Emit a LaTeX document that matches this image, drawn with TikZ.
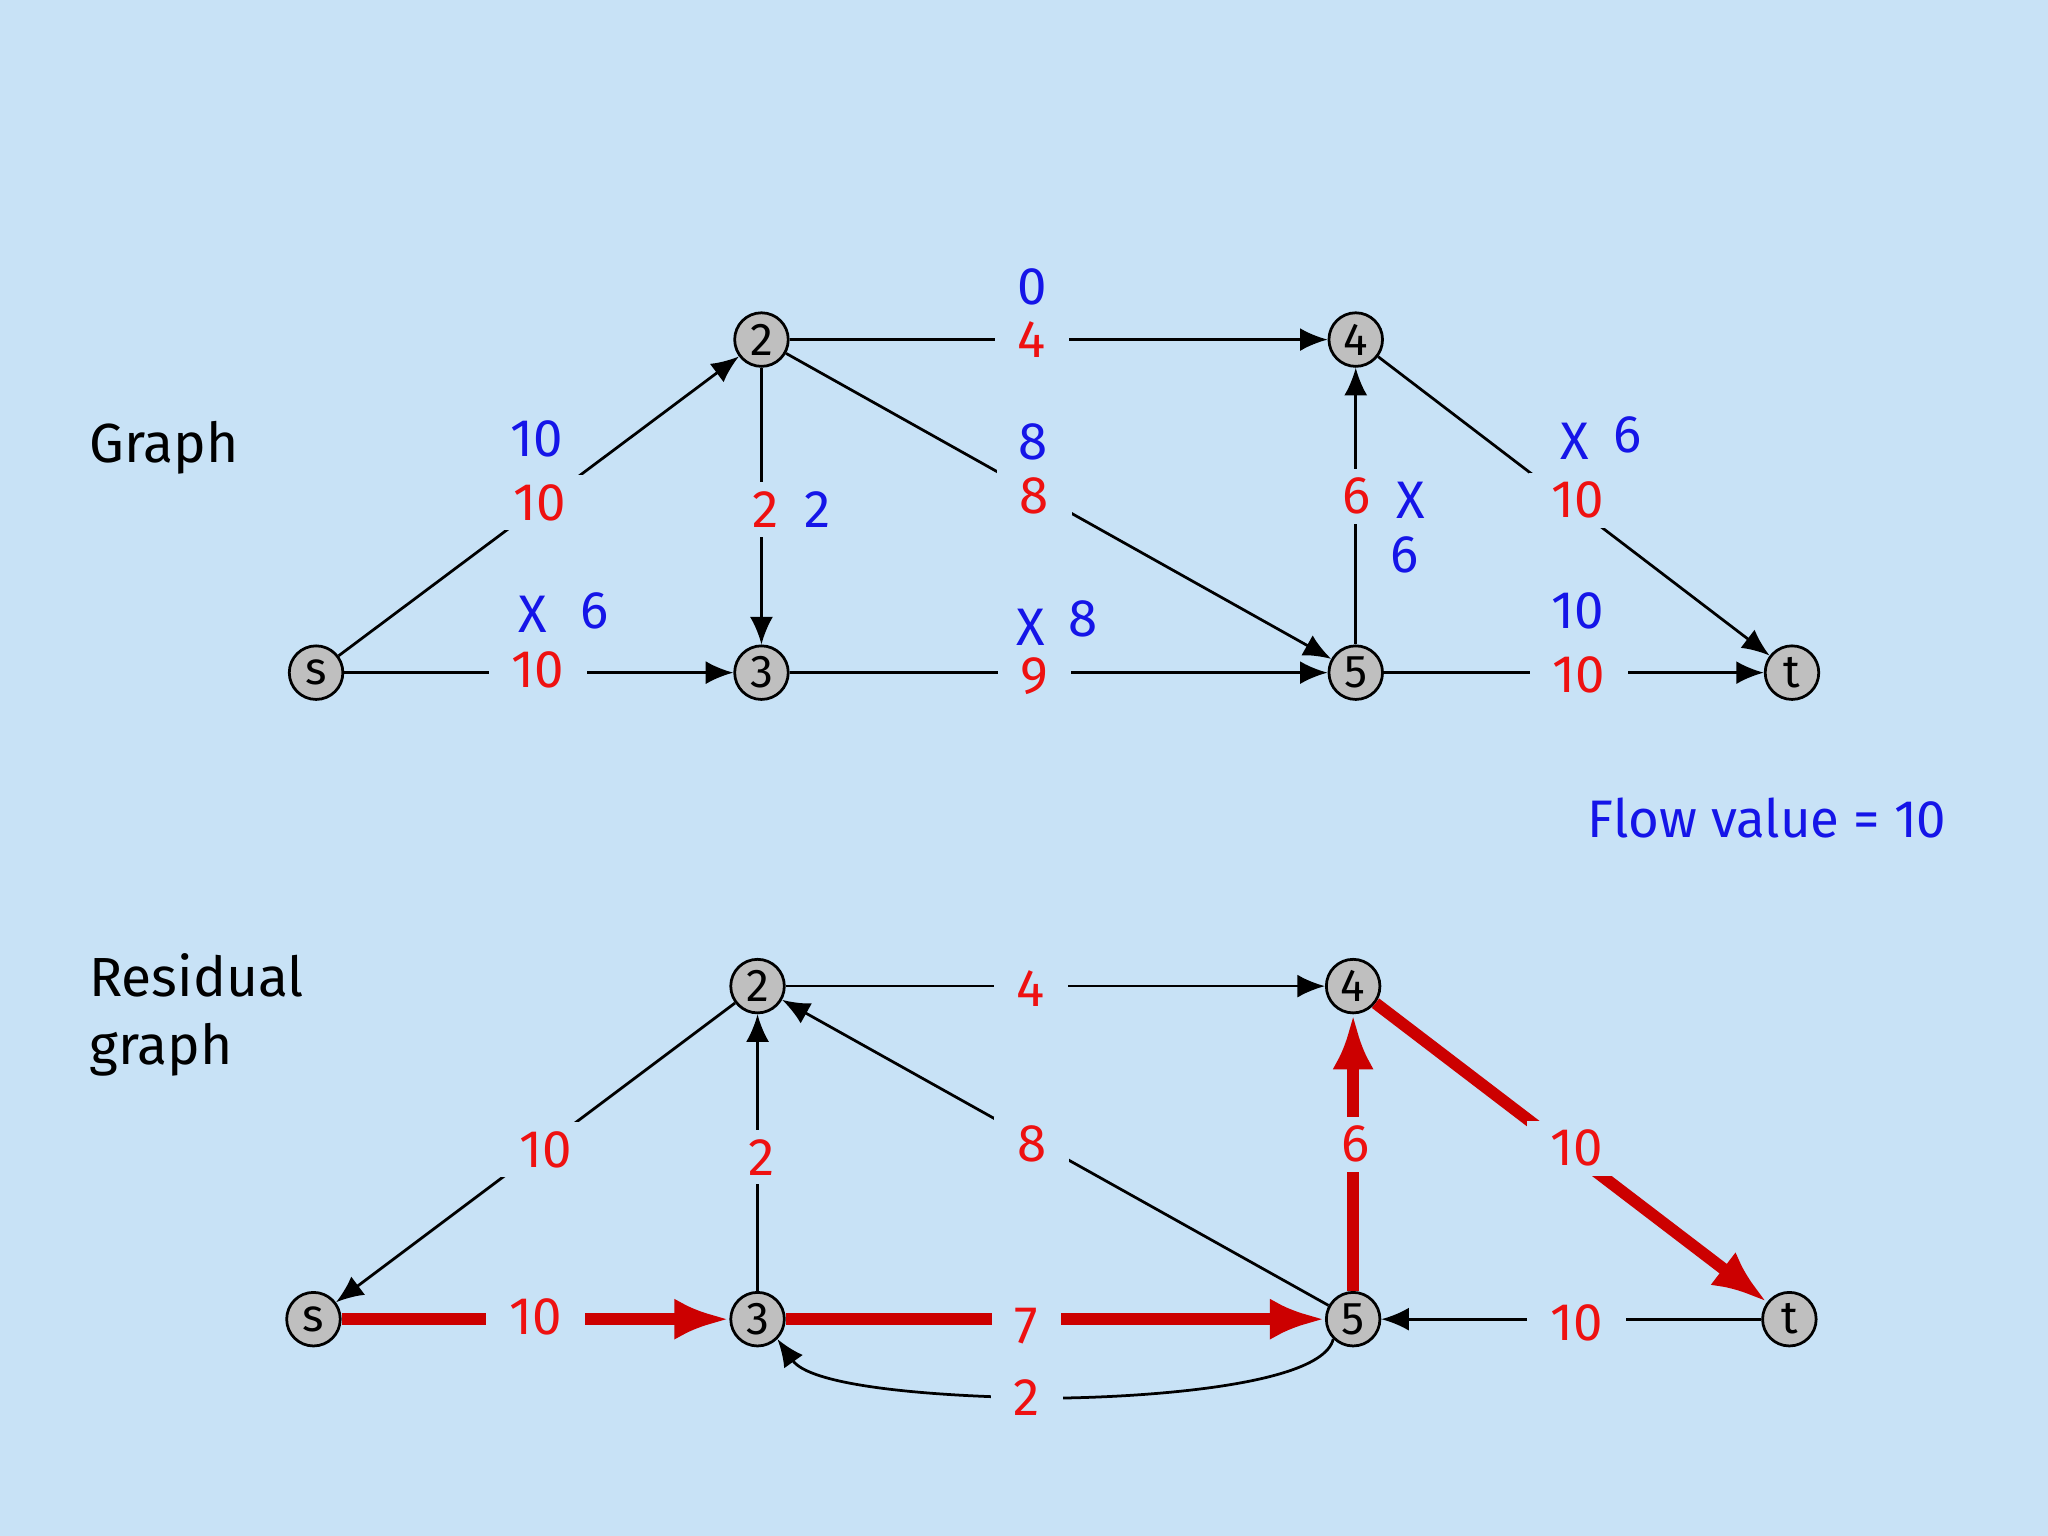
\documentclass[tikz,border=0pt]{standalone}
\usepackage{fontspec}
\setmainfont{Fira Sans}
\usetikzlibrary{arrows.meta}
\definecolor{bg}{HTML}{C8E2F6}
\definecolor{rd}{HTML}{EE1111}
\definecolor{bl}{HTML}{1515E8}
\definecolor{dr}{HTML}{CC0000}
\begin{document}
\begin{tikzpicture}[x=0.01cm,y=-0.01cm,
 vtx/.style={circle,draw,fill=gray!50,line width=0.6pt,minimum size=0.41cm,inner sep=0pt,font=\fontsize{10}{12}\selectfont},
 rl/.style={text=rd,fill=bg,inner xsep=5pt,inner ysep=2pt,font=\fontsize{11.5}{14}\selectfont},
 bl/.style={text=bl,inner sep=1pt,font=\fontsize{11.5}{14}\selectfont},
 ed/.style={-{Latex[length=6pt,width=5pt]},line width=0.6pt},
 hot/.style={-{Latex[length=12pt,width=9pt]},line width=2.6pt,draw=dr},
 ttl/.style={anchor=west,font=\fontsize{12}{15}\selectfont,align=left}]
\fill[bg] (0,0) rectangle (1568,1176);
\useasboundingbox (0,0) rectangle (1568,1176);
% top graph
\node[vtx] (s) at (242,515) {s};
\node[vtx] (a2) at (583,260) {2};
\node[vtx] (a3) at (583,515) {3};
\node[vtx] (a4) at (1038,260) {4};
\node[vtx] (a5) at (1038,515) {5};
\node[vtx] (t) at (1372,515) {t};
\draw[ed] (s) -- (a2);
\draw[ed] (s) -- (a3);
\draw[ed] (a2) -- (a3);
\draw[ed] (a2) -- (a4);
\draw[ed] (a2) -- (a5);
\draw[ed] (a3) -- (a5);
\draw[ed] (a5) -- (a4);
\draw[ed] (a4) -- (t);
\draw[ed] (a5) -- (t);
\node[rl] (l1) at (413,385) {10}; \node[bl] (b1) at (411,336) {10};
\node[rl] (l2) at (412,513) {10}; \node[bl] (b2) at (408,470) {X}; \node[bl] (b2b) at (455,468) {6};
\node[rl] (l3) at (586,390) {2}; \node[bl] (b3) at (626,390) {2};
\node[rl] (l4) at (790,260) {4}; \node[bl] (b4) at (790,220) {0};
\node[rl] (l5) at (792,380) {8}; \node[bl] (b5) at (791,338) {8};
\node[rl] (l6) at (792,518) {9}; \node[bl] (b6) at (789,480) {X}; \node[bl] (b6b) at (829,474) {8};
\node[rl] (l7) at (1039,380) {6}; \node[bl] (b7) at (1080,383) {X}; \node[bl] (b7b) at (1075,425) {6};
\node[rl] (l8) at (1208,383) {10}; \node[bl] (b8) at (1206,338) {X}; \node[bl] (b8b) at (1246,333) {6};
\node[rl] (l9) at (1209,517) {10}; \node[bl] (b9) at (1208,468) {10};
\node[ttl] (g1) at (56,343) {Graph};
\node[bl] (fv) at (1353,626) {Flow value = 10};
% residual graph
\node[vtx] (rs) at (240,1010) {s};
\node[vtx] (r2) at (580,755) {2};
\node[vtx] (r3) at (580,1010) {3};
\node[vtx] (r4) at (1036,755) {4};
\node[vtx] (r5) at (1036,1010) {5};
\node[vtx] (rt) at (1370,1010) {t};
\draw[ed] (r2) -- (rs);
\draw[ed] (r3) -- (r2);
\draw[ed] (r5) -- (r2);
\draw[ed] (r2) -- (r4);
\draw[ed] (rt) -- (r5);
\draw[ed] (r5.south west) .. controls (1010,1070) and (800,1072) .. (780,1070) .. controls (700,1068) and (620,1060) .. (r3.south east);
\draw[hot] (rs) -- (r3);
\draw[hot] (r3) -- (r5);
\draw[hot] (r5) -- (r4);
\draw[hot] (r4) -- (rt);
\node[rl] (m1) at (418,880) {10};
\node[rl] (m2) at (583,886) {2};
\node[rl] (m3) at (790,876) {8};
\node[rl] (m4) at (789,757) {4};
\node[rl] (m5) at (410,1008) {10};
\node[rl] (m6) at (786,1015) {7};
\node[rl] (m7) at (1038,876) {6};
\node[rl] (m8) at (1207,879) {10};
\node[rl] (m9) at (1207,1013) {10};
\node[rl] (m10) at (786,1070) {2};
\node[ttl] (g2) at (56,777) {Residual\\graph};
\end{tikzpicture}
\end{document}
